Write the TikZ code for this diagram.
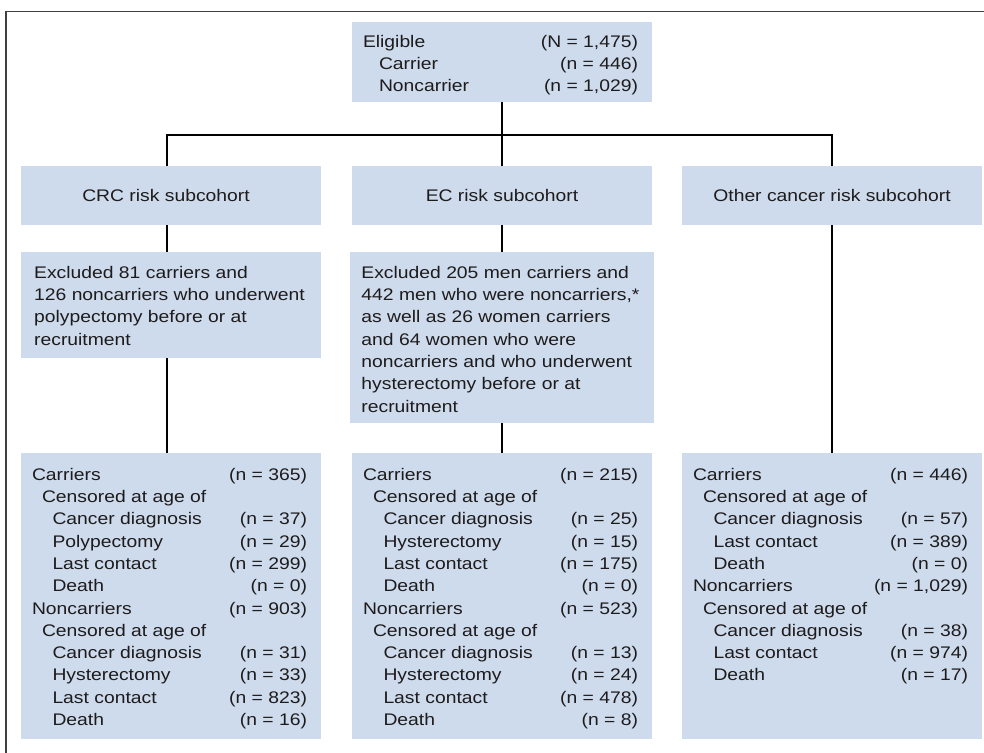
\documentclass[tikz,border=0pt]{standalone}
\usepackage{fontspec}
\setmainfont[FakeStretch=1.15]{Liberation Sans}
\usetikzlibrary{backgrounds}
\definecolor{boxfill}{RGB}{205,219,236}
\definecolor{txt}{RGB}{30,27,28}
\newcommand\myrow[3]{\hbox to 275pt{\rule{0pt}{13pt}\hspace*{#1}#2\hfill #3}}
\newcommand\myline[1]{\hbox{\rule{0pt}{13pt}#1}}
\newcommand\boxin[4]{\hspace*{11pt}\parbox[c][#1][t]{275pt}{\fontsize{16.8pt}{#3}\selectfont\vspace*{#2}#4}\hspace*{14pt}}
\begin{document}
\begin{tikzpicture}[x=1pt,y=-1pt,
  box/.style={fill=boxfill,inner sep=0pt,minimum width=300pt,text=txt,anchor=north,
    font=\fontsize{16.8pt}{22.3pt}\selectfont},
  subbox/.style={box,minimum height=59pt,text height=12pt,text depth=0pt,anchor=center},
  conn/.style={draw=black,line width=2pt,line join=miter},
  frame/.style={draw=black!75,line width=1.3pt}]
\useasboundingbox (0,0) rectangle (984,752);
\draw[frame] (6,753) -- (6,11.5) -- (985,11.5);

% top
\node[box,minimum height=80pt] (elig) at (502,22) {\boxin{80pt}{12.7pt}{21.7pt}{%
  \myrow{0pt}{Eligible}{(N = 1,475)}
  \myrow{16pt}{Carrier}{(n = 446)}
  \myrow{16pt}{Noncarrier}{(n = 1,029)}}};

% subcohorts
\node[subbox] (crcsub) at (171,195.5) {\hspace*{-10pt}CRC risk subcohort};
\node[subbox] (ecsub) at (502,195.5) {EC risk subcohort};
\node[subbox] (othsub) at (832,195.5) {Other cancer risk subcohort};

% exclusions
\node[box,minimum height=106pt] (crcexc) at (171,252) {\boxin{106pt}{13pt}{22.3pt}{%
  \myline{Excluded 81 carriers and}
  \myline{126 noncarriers who underwent}
  \myline{polypectomy before or at}
  \myline{recruitment}}};
\node[box,minimum height=171pt] (ecexc) at (502,252) {\boxin{171pt}{13pt}{22.3pt}{%
  \myline{Excluded 205 men carriers and}
  \myline{442 men who were noncarriers,*}
  \myline{as well as 26 women carriers}
  \myline{and 64 women who were}
  \myline{noncarriers and who underwent}
  \myline{hysterectomy before or at}
  \myline{recruitment}}};

% results
\node[box,minimum height=286pt] (crcres) at (171,453) {\boxin{286pt}{14pt}{22.3pt}{%
  \myrow{0pt}{Carriers}{(n = 365)}
  \myrow{10pt}{Censored at age of}{}
  \myrow{20.5pt}{Cancer diagnosis}{(n = 37)}
  \myrow{20.5pt}{Polypectomy}{(n = 29)}
  \myrow{20.5pt}{Last contact}{(n = 299)}
  \myrow{20.5pt}{Death}{(n = 0)}
  \myrow{0pt}{Noncarriers}{(n = 903)}
  \myrow{10pt}{Censored at age of}{}
  \myrow{20.5pt}{Cancer diagnosis}{(n = 31)}
  \myrow{20.5pt}{Hysterectomy}{(n = 33)}
  \myrow{20.5pt}{Last contact}{(n = 823)}
  \myrow{20.5pt}{Death}{(n = 16)}}};
\node[box,minimum height=286pt] (ecres) at (502,453) {\boxin{286pt}{14pt}{22.3pt}{%
  \myrow{0pt}{Carriers}{(n = 215)}
  \myrow{10pt}{Censored at age of}{}
  \myrow{20.5pt}{Cancer diagnosis}{(n = 25)}
  \myrow{20.5pt}{Hysterectomy}{(n = 15)}
  \myrow{20.5pt}{Last contact}{(n = 175)}
  \myrow{20.5pt}{Death}{(n = 0)}
  \myrow{0pt}{Noncarriers}{(n = 523)}
  \myrow{10pt}{Censored at age of}{}
  \myrow{20.5pt}{Cancer diagnosis}{(n = 13)}
  \myrow{20.5pt}{Hysterectomy}{(n = 24)}
  \myrow{20.5pt}{Last contact}{(n = 478)}
  \myrow{20.5pt}{Death}{(n = 8)}}};
\node[box,minimum height=286pt] (othres) at (832,453) {\boxin{286pt}{14pt}{22.3pt}{%
  \myrow{0pt}{Carriers}{(n = 446)}
  \myrow{10pt}{Censored at age of}{}
  \myrow{20.5pt}{Cancer diagnosis}{(n = 57)}
  \myrow{20.5pt}{Last contact}{(n = 389)}
  \myrow{20.5pt}{Death}{(n = 0)}
  \myrow{0pt}{Noncarriers}{(n = 1,029)}
  \myrow{10pt}{Censored at age of}{}
  \myrow{20.5pt}{Cancer diagnosis}{(n = 38)}
  \myrow{20.5pt}{Last contact}{(n = 974)}
  \myrow{20.5pt}{Death}{(n = 17)}}};

\coordinate (junc) at (502,135);
\coordinate (crcx) at ([xshift=-4.5pt]crcsub.north);
\begin{scope}[on background layer]
\draw[conn] (elig.south) -- (ecsub.north);
\draw[conn] (crcx) |- (junc) -| (othsub.north);
\draw[conn] ([xshift=-4.5pt]crcsub.south) -- ([xshift=-4.5pt]crcres.north);
\draw[conn] (ecsub.south) -- (ecres.north);
\draw[conn] (othsub.south) -- (othres.north);
\end{scope}
\end{tikzpicture}
\end{document}
